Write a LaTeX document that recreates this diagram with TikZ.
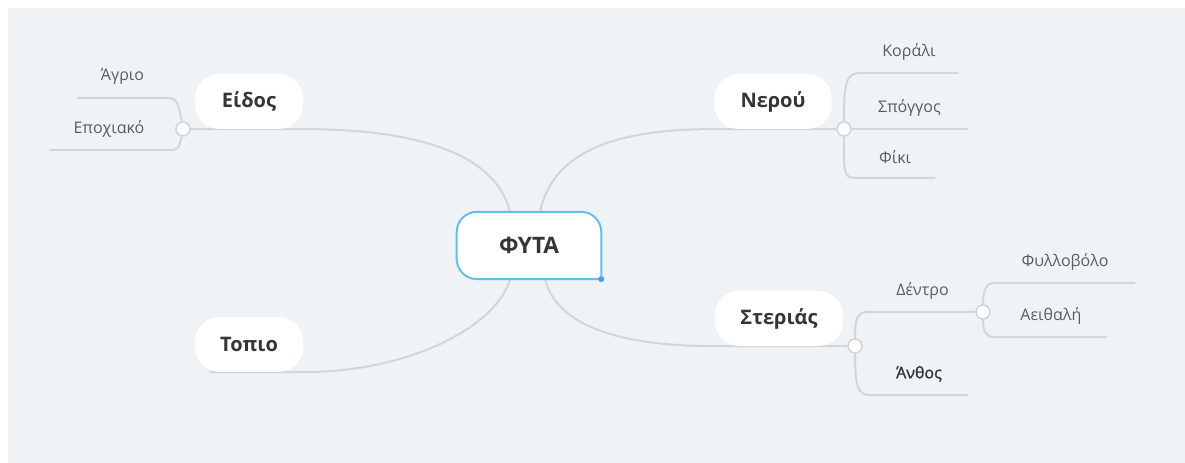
\documentclass[tikz,border=0pt]{standalone}
\usepackage{fontspec}
\setmainfont{Open Sans}
\newfontfamily\semifont[FakeBold=1.5]{Open Sans}
\usetikzlibrary{calc}
\usetikzlibrary{backgrounds}
\definecolor{bgcol}{HTML}{EFF3F6}
\definecolor{linecol}{HTML}{D2D6DA}
\definecolor{ctrblue}{HTML}{62C1E5}
\definecolor{dotblue}{HTML}{3FA4E6}
\definecolor{maintext}{HTML}{333538}
\definecolor{leaftext}{HTML}{5A5D60}
\tikzstyle{topic}=[fill=white,rounded corners=18pt,minimum height=41pt,inner sep=0pt,font=\fontsize{15}{17}\selectfont\bfseries,text=maintext]
\tikzstyle{leaf}=[anchor=south,minimum height=31.5pt,inner sep=0pt,font=\fontsize{12}{14}\selectfont,text=leaftext]
\tikzstyle{joint}=[circle,fill=white,draw=linecol,line width=1.2pt,minimum size=10.5pt,inner sep=0pt]
\tikzstyle{branch}=[draw=linecol,line width=1.5pt]

\begin{document}
\begin{tikzpicture}[x=0.75pt,y=-0.75pt]

  \useasboundingbox (0,0) rectangle (1185,463);

  % centre
  \node[minimum width=108pt,minimum height=50pt,inner sep=0pt,font=\fontsize{17}{19}\selectfont\bfseries,text=maintext] (ctr) at (529,245.5) {ΦΥΤΑ};
  \filldraw[fill=white,draw=ctrblue,line width=1.5pt,rounded corners=15pt] (ctr.south east) -- (ctr.south west) -- (ctr.north west) -- (ctr.north east) -- (ctr.south east);
  \fill[dotblue] (ctr.south east) circle (3);
  \node[font=\fontsize{17}{19}\selectfont\bfseries,text=maintext] at (ctr) {ΦΥΤΑ};

  % main topics
  \foreach \x/\y/\w/\name/\label in {249/101.5/81pt/eidos/Είδος, 773/101.5/88pt/nerou/Νερού, 779/318.5/96pt/steri/Στεριάς, 249/344.5/81pt/topio/Τοπιο}
          \node[topic,minimum width=\w] (\name) at (\x,\y) {\label};

  % joints
  \foreach \x/\y/\name in {183/129/eidosj, 844/129/nerouj, 855/346/sterj, 983/312/dentroj}
          \node[joint] (\name) at (\x,\y) {};

  % leaves
  \foreach \x/\y/\w/\name/\label in {122.5/98/68pt/agrio/Άγριο, 109/150/88.5pt/epox/Εποχιακό,
                                     909/73/73.5pt/koral/Κοράλι, 909.5/129/88pt/spong/Σπόγγος, 895/178/60pt/fiki/Φίκι,
                                     922.5/312/82pt/dentro/Δέντρο, 1065/283/105pt/fyllo/Φυλλοβόλο, 1051/337/84pt/aeith/Αειθαλή}
          \node[leaf,minimum width=\w] (\name) at (\x,\y) {\label};
  \node[leaf,minimum width=73.5pt,text=maintext,font=\fontsize{12}{14}\semifont] (anthos) at (919,395) {Άνθος};

  \begin{scope}[on background layer]
    \fill[bgcol] (8,8) rectangle (1200,480);

    % centre to topics
    \draw[branch] ($(ctr.north)+(-19,0)$) .. controls +(-15,-60) and +(110,0) .. (eidos.south east) -- (eidosj);
    \draw[branch] ($(ctr.north)+(11,0)$) .. controls +(12,-55) and +(-110,0) .. (nerou.south west) -- (nerouj);
    \draw[branch] ($(ctr.south)+(16,0)$) .. controls +(10,40) and +(-110,0) .. (steri.south west) -- (sterj);
    \draw[branch] ($(ctr.south)+(-19,0)$) .. controls +(-12,45) and +(110,0) .. (topio.south east) -- ($(topio.south west)+(15,0)$);

    % joints to leaves
    \foreach \source/\dest/\cy/\cx in {eidosj/agrio/-22/10, eidosj/epox/20/10}
           \draw[branch] (\source) .. controls +(-4,\cy) and +(\cx,0) .. (\dest.south east) -- (\dest.south west);

    \foreach \source/\dest/\cy/\cx in {nerouj/koral/-45/-14, nerouj/fiki/40/-12, sterj/dentro/-28/-10, sterj/anthos/40/-12, dentroj/fyllo/-22/-9, dentroj/aeith/20/-9}
           \draw[branch] (\source) .. controls +(0,\cy) and +(\cx,0) .. (\dest.south west) -- (\dest.south east);

    \draw[branch] (nerouj) -- (spong.south east);
    \draw[branch] (dentro.south east) -- (dentroj);
  \end{scope}

\end{tikzpicture}
\end{document}
